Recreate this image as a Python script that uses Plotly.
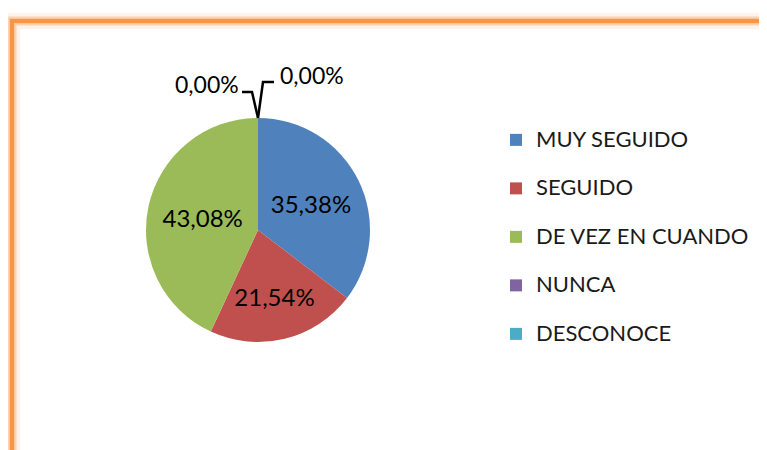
import plotly.graph_objects as go

# ---- data ----
categories = ["MUY SEGUIDO", "SEGUIDO", "DE VEZ EN CUANDO", "NUNCA", "DESCONOCE"]
values = [35.38, 21.54, 43.08, 0.00, 0.00]
colors = ["#4F81BD", "#C0504D", "#9BBB59", "#8064A2", "#4BACC6"]

# page body has an 8px margin, so the figure is drawn at (8, 8)
OFF = 8
W, H = 767 - OFF, 450 - OFF
FONT = "Lato, Carlito, Calibri, sans-serif"


def px(x):
    return (x - OFF) / W


def py(y):
    return 1 - (y - OFF) / H


def fmt(v):
    return f"{v:.2f}".replace(".", ",") + "%"


# pie geometry (reference-image pixels)
cx, cy, r = 258, 230, 112

# legend labels: larger visible text, padded with a blank line to get
# Excel-like item spacing
legend_labels = [f"<span style='font-size:22px'>{c}</span><br> " for c in categories]

fig = go.Figure()
fig.add_trace(go.Pie(
    labels=legend_labels,
    values=values,
    customdata=categories,
    marker=dict(colors=colors, line=dict(width=0)),
    sort=False,
    direction="clockwise",
    rotation=0,
    text=[fmt(v) for v in values],
    texttemplate="%{text}",
    textposition=["inside" if v > 0 else "none" for v in values],
    insidetextorientation="horizontal",
    insidetextfont=dict(family=FONT, size=24, color="#000000"),
    hovertemplate="%{customdata}: %{text}<extra></extra>",
    domain=dict(x=[px(cx - r), px(cx + r)], y=[py(cy + r), py(cy - r)]),
    showlegend=True,
))

# zero-value labels with leader lines
zero_idx = [i for i, v in enumerate(values) if v == 0]
# (text centre x, text centre y, line start x, line y, knee x)
label_pos = [(207, 84, 242, 92, 252), (312, 75, 274, 82, 263)]
shapes = []
for k, i in enumerate(zero_idx):
    tx, ty, lx_end, ly, lx_knee = label_pos[k]
    fig.add_annotation(
        x=px(tx), y=py(ty), xref="paper", yref="paper",
        xanchor="center", yanchor="middle",
        text=fmt(values[i]), showarrow=False,
        font=dict(family=FONT, size=23, color="#000000"),
    )
    path = (f"M{px(lx_end)},{py(ly)} L{px(lx_knee)},{py(ly)} "
            f"L{px(cx)},{py(cy - r)}")
    shapes.append(dict(type="path", xref="paper", yref="paper", path=path,
                       line=dict(color="#000000", width=2.5)))

# orange frame with glow
for w, op in [(16, 0.10), (10, 0.18), (7, 0.35)]:
    shapes.append(dict(type="rect", xref="paper", yref="paper",
                       x0=px(12), y0=py(500), x1=px(820), y1=py(21),
                       line=dict(color="#F79646", width=w), opacity=op,
                       layer="below"))
shapes.append(dict(type="rect", xref="paper", yref="paper",
                   x0=px(12), y0=py(500), x1=px(820), y1=py(21),
                   line=dict(color="#F79646", width=4), layer="below"))

fig.update_layout(
    width=W, height=H,
    margin=dict(l=0, r=0, t=0, b=0),
    paper_bgcolor="#FFFFFF",
    plot_bgcolor="#FFFFFF",
    separators=",.",
    shapes=shapes,
    showlegend=True,
    legend=dict(
        x=px(496), y=py(122), xanchor="left", yanchor="top",
        font=dict(family=FONT, size=17.5, color="#1a1a1a"),
        valign="top",
        bgcolor="rgba(0,0,0,0)",
        traceorder="normal",
    ),
)

fig.write_html("out.html")
